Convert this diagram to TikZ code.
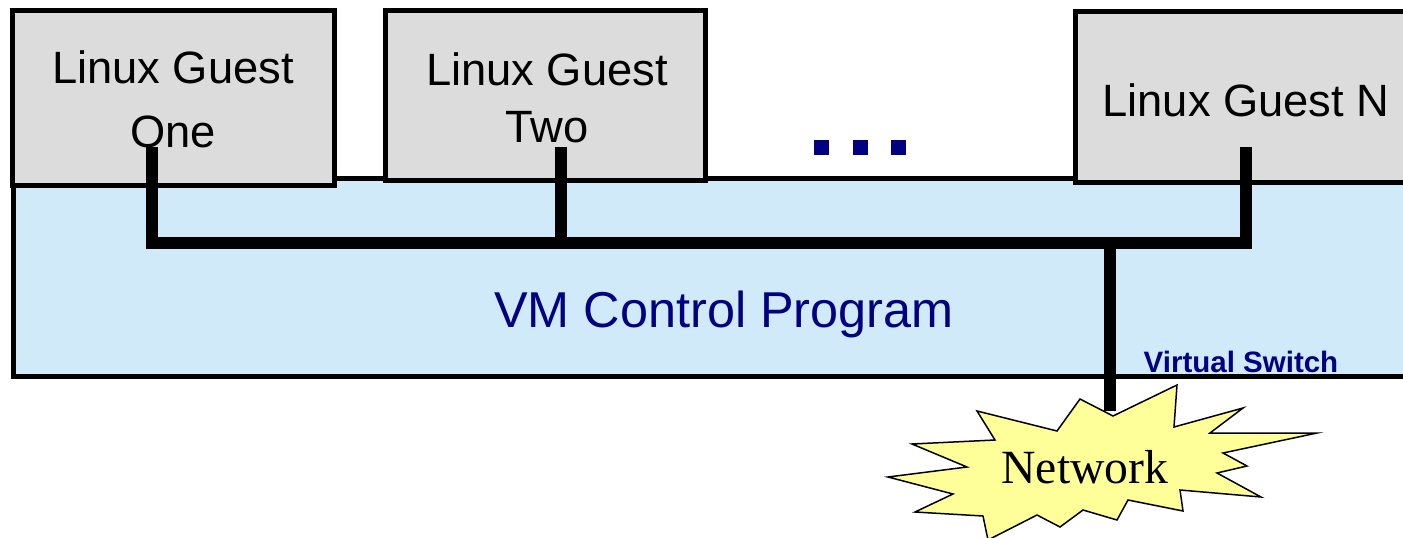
\documentclass[tikz,border=0pt]{standalone}
\usepackage{fontspec}
\setmainfont{Liberation Sans}
\newfontfamily\timesfont{Liberation Serif}
\definecolor{boxgray}{RGB}{220,220,220}
\definecolor{vmblue}{RGB}{208,234,250}
\definecolor{navy}{RGB}{0,0,128}
\definecolor{burst}{RGB}{255,255,153}
\begin{document}
\begin{tikzpicture}[x=1pt,y=-1pt,
  guestbox/.style={draw=black, line width=5pt, fill=boxgray, inner sep=0pt, rectangle},
  guesttext/.style={inner sep=0pt, anchor=base, align=center, text=black},
  wire/.style={draw=black, line width=12pt, line join=miter},
  dotsq/.style={fill=navy, draw=none, minimum size=15pt, inner sep=0pt}]
\useasboundingbox (0,0) rectangle (1403,538);
\clip (0,0) rectangle (1403,538);
% VM control program area
\node[draw=black, line width=5pt, fill=vmblue, inner sep=0pt, minimum width=1407pt, minimum height=197.5pt] (vm) at (716.5,178.75+98.75) {};
% guest boxes
\node[guestbox, minimum width=321.5pt, minimum height=174.5pt] (g1) at (173.25,97.75) {};
\node[guestbox, minimum width=320pt, minimum height=170pt] (g2) at (545.5,95.5) {};
\node[guestbox, minimum width=345pt, minimum height=171pt] (gn) at (1247.5,96.5) {};
% texts (base anchor is the baseline of the last line)
\node[guesttext, font=\fontsize{45.3}{64}\selectfont] (t1) at (173,147) {Linux Guest\\One};
\node[guesttext, font=\fontsize{45.3}{57}\selectfont] (t2) at (547,142) {Linux Guest\\Two};
\node[guesttext, font=\fontsize{45.3}{53}\selectfont] (tn) at (1246,116) {Linux Guest N};
% dots
\node[dotsq] (d1) at (821.5,147.5) {};
\node[dotsq] (d2) at (860.5,147.5) {};
\node[dotsq] (d3) at (898.5,147.5) {};
% labels in VM
\node[inner sep=0pt, anchor=base, text=navy, font=\fontsize{50.4}{60}\selectfont] (vmtext) at (724,327) {VM Control Program};
\node[inner sep=0pt, anchor=base, text=navy, font=\bfseries\fontsize{29.5}{35}\selectfont] (vswitch) at (1241,372) {Virtual Switch};
% network starburst
\draw[fill=burst, draw=black, line width=1.5pt, line join=miter]
  (1080,399) -- (1113,416) -- (1177,385) -- (1174,427) -- (1243,408) -- (1210,433)
  -- (1317,433) -- (1223,453) -- (1247,466) -- (1217,473) -- (1261,497) -- (1180,490)
  -- (1183,511) -- (1128,500) -- (1117,520) -- (1083,510) -- (1060,527) -- (1037,515)
  -- (988,540) -- (983,516) -- (915,512) -- (953,494) -- (888,477) -- (967,467)
  -- (912,444) -- (995,440) -- (977,411) -- (1057,431) -- cycle;
\node[inner sep=0pt, anchor=base, font=\timesfont\fontsize{47.7}{57}\selectfont] (net) at (1085,483) {Network};
% connectors
\coordinate (p1) at (152,147);
\coordinate (p2) at (561,147);
\coordinate (pn) at (1246,147);
\coordinate (b1) at (152,243);
\coordinate (b2) at (561,243);
\coordinate (bn) at (1246,243);
\coordinate (bj) at (1110,243);
\coordinate (pnet) at (1110,411);
\draw[wire] (p1) -- (b1) -- (bn) -- (pn);
\draw[wire] (p2) -- (b2);
\draw[wire] (bj) -- (pnet);
\end{tikzpicture}
\end{document}
